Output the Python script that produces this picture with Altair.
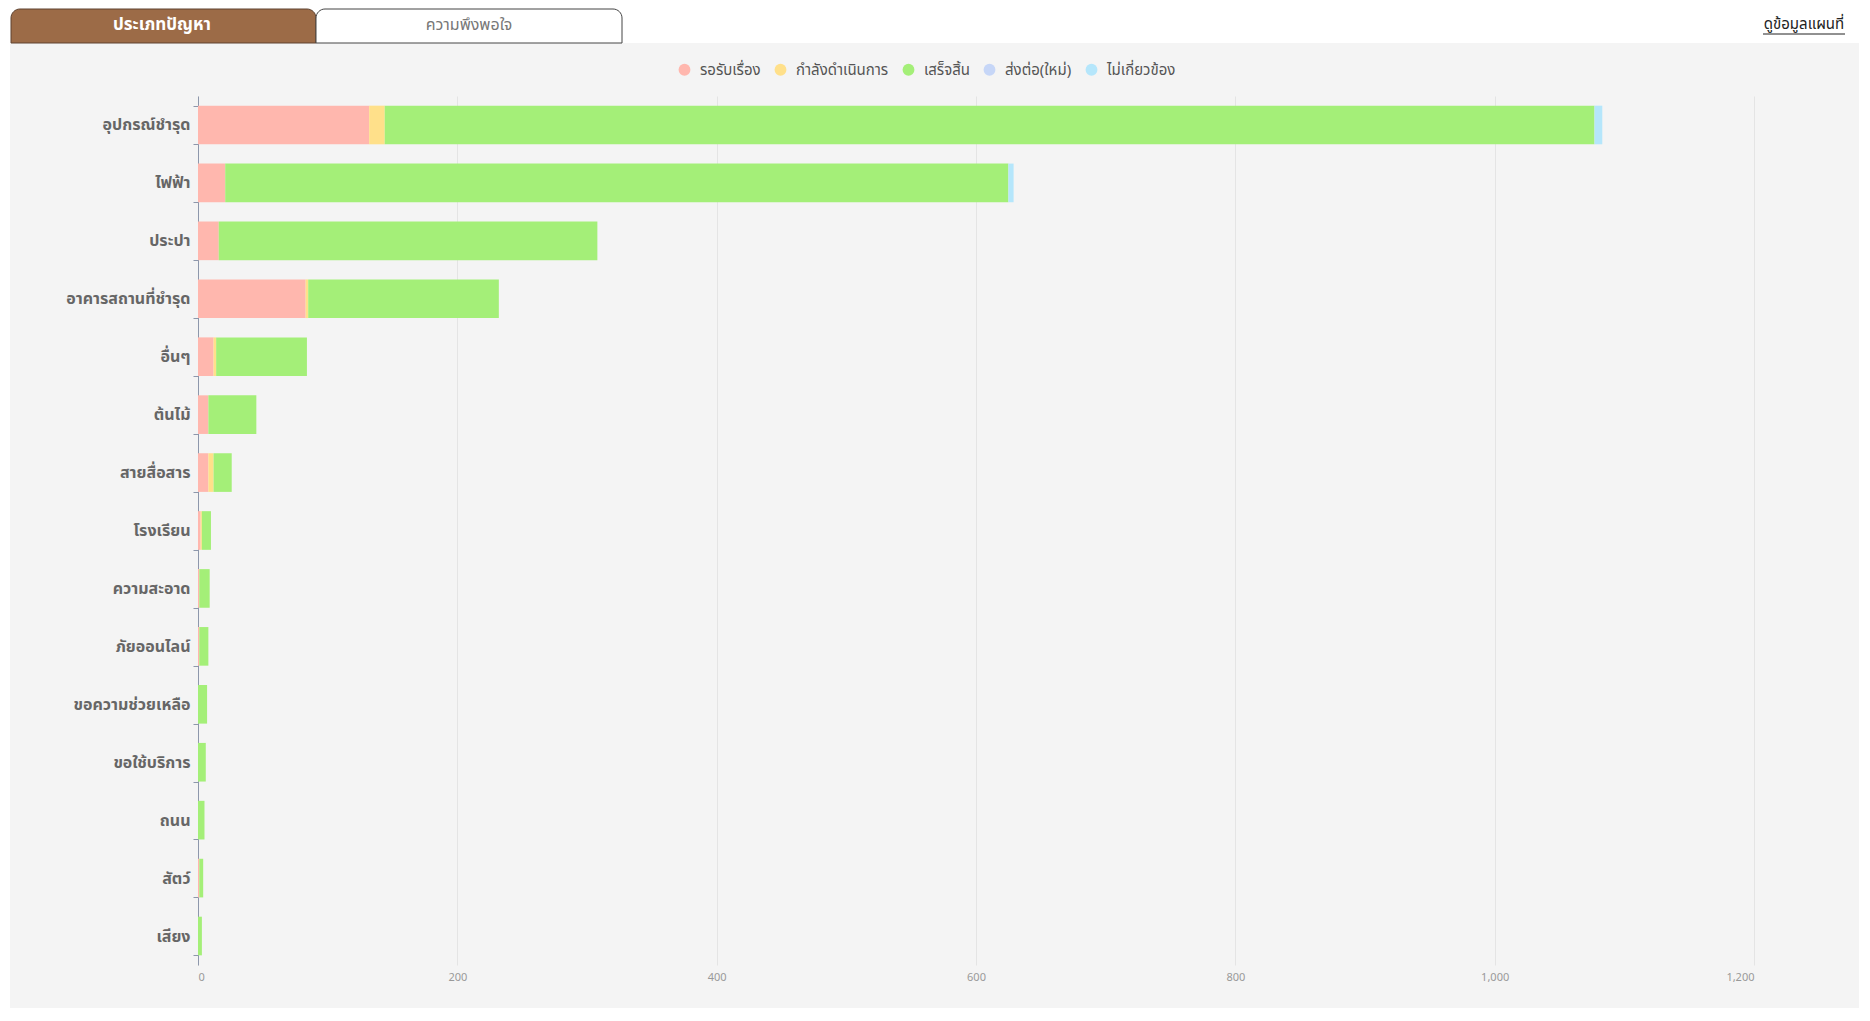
import altair as alt
import pandas as pd

categories = ["อุปกรณ์ชำรุด", "ไฟฟ้า", "ประปา", "อาคารสถานที่ชำรุด", "อื่นๆ", "ต้นไม้",
              "สายสื่อสาร", "โรงเรียน", "ความสะอาด", "ภัยออนไลน์", "ขอความช่วยเหลือ",
              "ขอใช้บริการ", "ถนน", "สัตว์", "เสียง"]
statuses = ["รอรับเรื่อง", "กำลังดำเนินการ", "เสร็จสิ้น", "ส่งต่อ(ใหม่)", "ไม่เกี่ยวข้อง"]
status_colors = ["#ffb7ae", "#ffe08a", "#a4ef78", "#c6d6f7", "#b5e6fb"]

waiting = [132, 21, 16, 83, 12, 8, 8, 2, 1, 1, 0, 0, 0, 1, 0]
in_progress = [12, 0, 0, 2, 2, 0, 4, 1, 0, 0, 0, 0, 0, 0, 0]
done = [933, 604, 292, 147, 70, 37, 14, 7, 8, 7, 7, 6, 5, 3, 3]
forwarded = [0, 0, 0, 0, 0, 0, 0, 0, 0, 0, 0, 0, 0, 0, 0]
unrelated = [6, 4, 0, 0, 0, 0, 0, 0, 0, 0, 0, 0, 0, 0, 0]

x_ticks = [0, 200, 400, 600, 800, 1000, 1200]

tab_labels = ["ประเภทปัญหา", "ความพึงพอใจ"]
link_label = "ดูข้อมูลแผนที่"

series = [waiting, in_progress, done, forwarded, unrelated]
rows = []
for si, (st, vals) in enumerate(zip(statuses, series)):
    for cat, v in zip(categories, vals):
        rows.append({"category": cat, "status": st, "order": si, "count": v})
df = pd.DataFrame(rows)

FONT = "Noto Sans Thai, Noto Sans, Loma, Garuda, sans-serif"
one = alt.Data(values=[{"a": 1}])

header_bg = alt.Chart(one).mark_rect(color="white").encode(
    x=alt.value(-190), x2=alt.value(1661), y=alt.value(-88), y2=alt.value(-53))
left_strip = alt.Chart(one).mark_rect(color="white").encode(
    x=alt.value(-190), x2=alt.value(-188), y=alt.value(-88), y2=alt.value(912))

tab1 = alt.Chart(one).mark_rect(fill="#9c6b47", stroke="#5e4230", strokeWidth=1,
                                cornerRadiusTopLeft=9, cornerRadiusTopRight=9).encode(
    x=alt.value(-187), x2=alt.value(118), y=alt.value(-87), y2=alt.value(-53))
tab2 = alt.Chart(one).mark_rect(fill="white", stroke="#444", strokeWidth=1,
                                cornerRadiusTopLeft=9, cornerRadiusTopRight=9).encode(
    x=alt.value(118), x2=alt.value(424), y=alt.value(-87), y2=alt.value(-53))

tab1_text = alt.Chart(one).mark_text(text=tab_labels[0], color="white", fontSize=17,
                                     fontWeight="bold", font=FONT).encode(
    x=alt.value(-36), y=alt.value(-71))
tab2_text = alt.Chart(one).mark_text(text=tab_labels[1], color="#777", fontSize=16,
                                     font=FONT).encode(
    x=alt.value(271), y=alt.value(-71))
link_text = alt.Chart(one).mark_text(text=link_label, color="#222", fontSize=15,
                                     font=FONT).encode(
    x=alt.value(1606), y=alt.value(-72))
link_rule = alt.Chart(one).mark_rule(color="#222", strokeWidth=1).encode(
    x=alt.value(1565), x2=alt.value(1647), y=alt.value(-62))

bars = alt.Chart(df).mark_bar().encode(
    y=alt.Y("category:N", sort=categories,
            scale=alt.Scale(paddingInner=0.333, paddingOuter=0.1667),
            axis=alt.Axis(title=None, labelFontSize=16, labelFontWeight="bold",
                          labelColor="#666", labelFont=FONT, domainColor="#8d97ab",
                          tickColor="#8d97ab", tickSize=5, tickBand="extent",
                          labelPadding=3, grid=False)),
    x=alt.X("count:Q", stack="zero",
            scale=alt.Scale(domain=[0, 1200], nice=False),
            axis=alt.Axis(title=None, values=x_ticks, format=",d", grid=True,
                          gridColor="#e4e4e4", domain=False, ticks=False,
                          labelColor="#999", labelFontSize=11, labelPadding=6,
                          labelFont=FONT)),
    color=alt.Color("status:N", sort=statuses,
                    scale=alt.Scale(domain=statuses, range=status_colors),
                    legend=alt.Legend(orient="none", legendX=479, legendY=-34,
                                      direction="horizontal", title=None,
                                      symbolType="circle", symbolSize=140,
                                      symbolStrokeWidth=0, labelFontSize=15,
                                      labelColor="#555", labelFont=FONT,
                                      columnPadding=12, labelOffset=8, padding=0)),
    order=alt.Order("order:Q"),
)

chart = alt.layer(header_bg, left_strip, tab1, tab2, tab1_text, tab2_text, link_text,
                  link_rule, bars).properties(
    width=1556, height=869,
    autosize=alt.AutoSizeParams(type="none"),
    padding={"left": 190, "top": 88, "right": 105, "bottom": 43},
    background="#f4f4f4",
).configure_view(stroke=None)

chart.save("out.html", embed_options={"renderer": "svg", "actions": False})
